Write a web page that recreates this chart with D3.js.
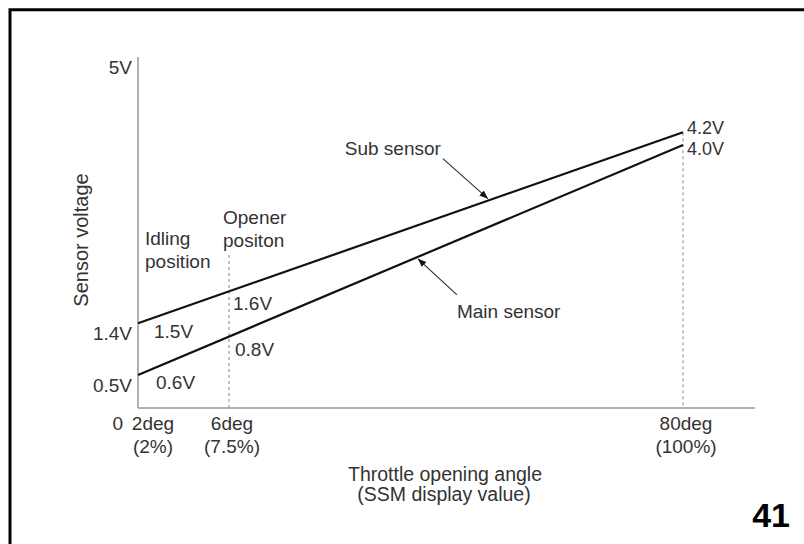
<!DOCTYPE html>
<html>
<head>
<meta charset="utf-8">
<script src="https://cdn.jsdelivr.net/npm/d3@7"></script>
<style>
    body { margin: 0; background: #fff; }
    text { font-family: "Liberation Sans", Arial, sans-serif; fill: #333; }
</style>
</head>
<body>
<figure id="chart" style="margin:0"></figure>
<script>
// values (schematic, not to scale)
var angles = [0, 2, 6, 80];
var angleLabels = [
    { deg: 2, top: "2deg", bottom: "(2%)" },
    { deg: 6, top: "6deg", bottom: "(7.5%)" },
    { deg: 80, top: "80deg", bottom: "(100%)" }
];
var voltTicks = [0.5, 1.4, 5];
var subSensor = [ { deg: 0, v: 1.4 }, { deg: 80, v: 4.2 } ];
var mainSensor = [ { deg: 0, v: 0.5 }, { deg: 80, v: 4.0 } ];
var subNotes = [ { deg: 2, text: "1.5V" }, { deg: 6, text: "1.6V" } ];
var mainNotes = [ { deg: 2, text: "0.6V" }, { deg: 6, text: "0.8V" } ];
var endNotes = ["4.2V", "4.0V"];

var dimensions = { width: 804, height: 544 };
var fs = "19px";

var svg = d3.select("figure#chart")
    .append("svg")
    .attr("width", dimensions.width)
    .attr("height", dimensions.height);

// frame (top + left)
svg.append("path")
    .attr("d", "M10,544 V9.7 H804")
    .attr("fill", "none")
    .attr("stroke", "#000")
    .attr("stroke-width", 3);

// piecewise scales, the drawing is not linear
var xScale = d3.scaleLinear()
    .domain(angles)
    .range([138, 150, 229, 683]);

var yScale = d3.scaleLinear()
    .domain([0, 0.5, 1.4, 4.0, 4.2, 5])
    .range([408, 375, 323.3, 145, 132.3, 57]);

var x0 = xScale(0), y0 = yScale(0);

// helper: pixel y on a sensor line at a given angle
function lineY(data, deg) {
    var ax = xScale(data[0].deg), ay = yScale(data[0].v);
    var bx = xScale(data[1].deg), by = yScale(data[1].v);
    var px = xScale(deg);
    return ay + (px - ax) * (by - ay) / (bx - ax);
}

// dotted guide lines
svg.append("line")
    .attr("x1", xScale(6)).attr("x2", xScale(6))
    .attr("y1", 255).attr("y2", y0)
    .attr("stroke", "#888").attr("stroke-dasharray", "3,3");
svg.append("line")
    .attr("x1", xScale(80)).attr("x2", xScale(80))
    .attr("y1", yScale(4.2)).attr("y2", y0)
    .attr("stroke", "#888").attr("stroke-dasharray", "3,3");

// axes lines
svg.append("line")
    .attr("x1", x0).attr("x2", x0)
    .attr("y1", yScale(5)).attr("y2", y0)
    .attr("stroke", "#999").attr("stroke-width", 1.5);
svg.append("line")
    .attr("x1", x0).attr("x2", 755)
    .attr("y1", y0).attr("y2", y0)
    .attr("stroke", "#999").attr("stroke-width", 1.5);

// y tick labels via axis
var yAxis = svg.append("g")
    .attr("transform", `translate(${x0},0)`)
    .call(d3.axisLeft(yScale).tickValues(voltTicks).tickSize(0).tickPadding(6)
        .tickFormat(d => d + "V"));
yAxis.select(".domain").remove();
yAxis.selectAll("text")
    .attr("dy", null)
    .attr("y", 16.5)
    .style("font-size", fs)
    .style("font-family", "'Liberation Sans', Arial, sans-serif")
    .attr("fill", "#333");

svg.append("text")
    .attr("x", 123).attr("y", 430)
    .attr("text-anchor", "end")
    .style("font-size", fs)
    .text("0");

// x tick labels
var xLabels = svg.selectAll("g.xlab")
    .data(angleLabels)
    .enter()
    .append("g")
    .attr("class", "xlab")
    .attr("transform", d => `translate(${xScale(d.deg) + 3},0)`);
xLabels.append("text")
    .attr("y", 430)
    .attr("text-anchor", "middle")
    .style("font-size", fs)
    .text(d => d.top);
xLabels.append("text")
    .attr("y", 453)
    .attr("text-anchor", "middle")
    .style("font-size", fs)
    .text(d => d.bottom);

// axis titles
svg.append("text")
    .attr("x", 445).attr("y", 481)
    .attr("text-anchor", "middle")
    .style("font-size", "19.5px")
    .text("Throttle opening angle");
svg.append("text")
    .attr("x", 444).attr("y", 501)
    .attr("text-anchor", "middle")
    .style("font-size", "19.5px")
    .text("(SSM display value)");
svg.append("text")
    .attr("transform", "translate(88,240) rotate(-90)")
    .attr("text-anchor", "middle")
    .style("font-size", "20px")
    .text("Sensor voltage");

// sensor lines
var line = d3.line()
    .x(d => xScale(d.deg))
    .y(d => yScale(d.v));

[subSensor, mainSensor].forEach(function(data) {
    svg.append("path")
        .datum(data)
        .attr("d", line)
        .attr("fill", "none")
        .attr("stroke", "#111")
        .attr("stroke-width", 2.2);
});

// notes along the lines
svg.selectAll("text.subnote")
    .data(subNotes)
    .enter()
    .append("text")
    .attr("class", "subnote")
    .attr("x", d => xScale(d.deg) + 4)
    .attr("y", d => lineY(subSensor, d.deg) + 19)
    .style("font-size", fs)
    .text(d => d.text);
svg.selectAll("text.mainnote")
    .data(mainNotes)
    .enter()
    .append("text")
    .attr("class", "mainnote")
    .attr("x", d => xScale(d.deg) + 6)
    .attr("y", d => lineY(mainSensor, d.deg) + 19)
    .style("font-size", fs)
    .text(d => d.text);

// end values (tight pair, as in the source)
svg.selectAll("text.endnote")
    .data(endNotes)
    .enter()
    .append("text")
    .attr("class", "endnote")
    .attr("x", xScale(80) + 4)
    .attr("y", (d, i) => i === 0 ? yScale(4.2) + 2 : yScale(4.0) + 10)
    .style("font-size", "18px")
    .text(d => d);

// position captions
svg.append("text")
    .attr("x", xScale(2) - 5).attr("y", 245)
    .style("font-size", fs)
    .text("Idling");
svg.append("text")
    .attr("x", xScale(2) - 5).attr("y", 268)
    .style("font-size", fs)
    .text("position");
svg.append("text")
    .attr("x", xScale(6) - 6).attr("y", 224)
    .style("font-size", fs)
    .text("Opener");
svg.append("text")
    .attr("x", xScale(6) - 6).attr("y", 247)
    .style("font-size", fs)
    .text("positon");

// arrows pointing at the lines
svg.append("defs").append("marker")
    .attr("id", "head")
    .attr("viewBox", "0 0 10 10")
    .attr("refX", 10).attr("refY", 5)
    .attr("markerWidth", 7).attr("markerHeight", 7)
    .attr("orient", "auto")
    .append("path")
    .attr("d", "M0,1 L10,5 L0,9 Z")
    .attr("fill", "#111");

var subTip = 48.2, mainTip = 36.8;
var sx = xScale(subTip), sy = lineY(subSensor, subTip) - 2;
var mx = xScale(mainTip), my = lineY(mainSensor, mainTip) + 2;

svg.append("line")
    .attr("x1", sx - 45).attr("y1", sy - 40)
    .attr("x2", sx).attr("y2", sy)
    .attr("stroke", "#333").attr("stroke-width", 1.2)
    .attr("marker-end", "url(#head)");
svg.append("text")
    .attr("x", sx - 47).attr("y", sy - 44)
    .attr("text-anchor", "end")
    .style("font-size", fs)
    .text("Sub sensor");

svg.append("line")
    .attr("x1", mx + 39).attr("y1", my + 36)
    .attr("x2", mx).attr("y2", my)
    .attr("stroke", "#333").attr("stroke-width", 1.2)
    .attr("marker-end", "url(#head)");
svg.append("text")
    .attr("x", mx + 39).attr("y", my + 59)
    .style("font-size", fs)
    .text("Main sensor");

// page number
svg.append("text")
    .attr("x", 790).attr("y", 527)
    .attr("text-anchor", "end")
    .style("font-size", "34px")
    .style("font-weight", "bold")
    .style("fill", "#000")
    .text("41");
</script>
</body>
</html>
